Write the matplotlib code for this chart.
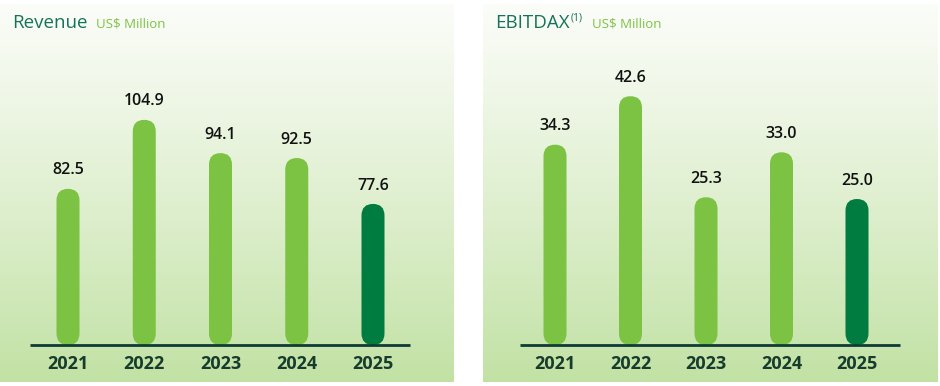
import numpy as np
import matplotlib
matplotlib.use("Agg")
import matplotlib.pyplot as plt
from matplotlib.patches import FancyBboxPatch

plt.rcParams["font.family"] = ["Open Sans", "DejaVu Sans"]

years = ["2021", "2022", "2023", "2024", "2025"]
revenue = [82.5, 104.9, 94.1, 92.5, 77.6]
ebitdax = [34.3, 42.6, 25.3, 33.0, 25.0]

light = "#7cc243"
dark = "#007c40"
line_col = "#0e3b35"
title_col = "#16735a"

W, H = 940, 386
fig = plt.figure(figsize=(W / 100, H / 100), dpi=100)

# gradient used as panel background
grad = np.linspace(0, 1, 256).reshape(-1, 1)
top = np.array([0.985, 0.99, 0.975])
bot = np.array([0.76, 0.885, 0.645])
img = top + (bot - top) * grad[:, :, None] ** 1.1
img = img.reshape(256, 1, 3)


def panel(x0, x1, xc0, step, base, px_per_unit, line_x, vals, title, sub, sup=None):
    # axes spans pixel box; limits chosen so bars land where the picture has them
    y0, y1 = 4, 382
    ax = fig.add_axes([x0 / W, (H - y1) / H, (x1 - x0) / W, (y1 - y0) / H])
    ax.imshow(img, extent=[0, 1, 0, 1], transform=ax.transAxes, aspect="auto", zorder=0)
    above = 345 - y0
    below = y1 - 345
    ax.set_xlim((x0 - xc0) / step, (x1 - xc0) / step)
    ax.set_ylim(base - below / px_per_unit, base + above / px_per_unit)
    ax.axis("off")

    wpx, hpx = x1 - x0, y1 - y0
    xl, yl = ax.get_xlim(), ax.get_ylim()
    aspect = ((yl[1] - yl[0]) / hpx) / ((xl[1] - xl[0]) / wpx)
    bw = 23 / step
    for i, v in enumerate(vals):
        c = dark if i == len(vals) - 1 else light
        p = FancyBboxPatch((i - bw / 2, base), bw, v - base,
                           boxstyle=f"round,pad=0,rounding_size={bw / 2}",
                           mutation_aspect=aspect, fc=c, ec="none", zorder=2)
        ax.add_patch(p)
        ax.annotate(f"{v:.1f}", (i, v), xytext=(0, 7.5), textcoords="offset points",
                    ha="center", va="bottom", fontsize=11.5, fontweight="semibold",
                    color="#111111", zorder=3)
        ax.annotate(years[i], (i, base), xytext=(0, -14), textcoords="offset points",
                    ha="center", va="center", fontsize=13, fontweight="bold",
                    color="#173c2c", zorder=3)
    ax.plot([(line_x[0] - xc0) / step, (line_x[1] - xc0) / step], [base, base],
            color=line_col, lw=2, solid_capstyle="butt", zorder=3)

    t = fig.text((x0 + 12) / W, 1 - 28 / H, title, fontsize=13.5, color=title_col,
                 ha="left", va="baseline")
    fig.canvas.draw()
    bb = t.get_window_extent()
    xe = bb.x1
    if sup:
        s = fig.text((xe + 1) / W, 1 - 20 / H, sup, fontsize=7.5, color=title_col,
                     ha="left", va="baseline")
        xe = s.get_window_extent().x1
    fig.text((xe + 9) / W, 1 - 28 / H, sub, fontsize=9.5, color=light,
             ha="left", va="baseline")
    return ax


panel(0, 454, 68, 76.25, 31.8, 3.08, (30, 410), revenue, "Revenue", "US$ Million")
panel(483, 938, 555, 75.5, 0.0, 5.84, (520, 900), ebitdax, "EBITDAX", "US$ Million", "(1)")

fig.savefig("out.png", dpi=100, facecolor="white")
